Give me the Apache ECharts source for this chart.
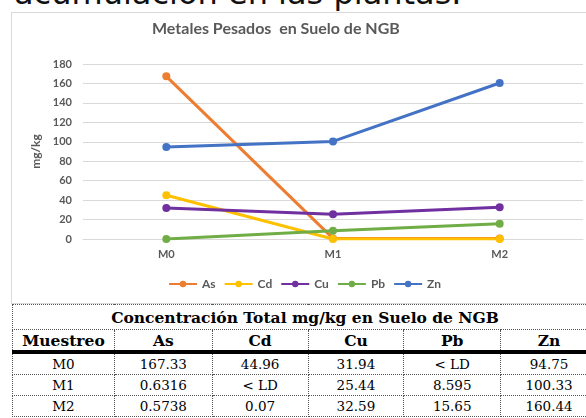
<!DOCTYPE html>
<html>
<head>
<meta charset="utf-8">
<script src="https://cdn.jsdelivr.net/npm/echarts@6/dist/echarts.min.js"></script>
<style>
  html, body { margin: 0; padding: 0; background: #fff; overflow: hidden; width: 586px; height: 418px; }
  .top-text {
    position: absolute; left: 14px; top: -23px;
    font-family: "DejaVu Sans", sans-serif; font-size: 32px; line-height: 32px;
    color: #111; white-space: nowrap;
  }
  .chart-box {
    position: absolute; left: 11px; top: 12px; width: 600px; height: 290px;
    border: 1px solid #d9d9d9; background: #fff;
  }
  .tabla {
    position: absolute; left: 12px; top: 304px; width: 586px;
    border-collapse: collapse; font-family: "DejaVu Serif", "Liberation Serif", serif; color: #000;
  }
  .tabla td, .tabla th {
    border: 1px dotted #555; text-align: center; padding: 0;
  }
  .tabla th { font-weight: bold; font-size: 15.5px; }
  .tabla .titulo th { height: 24px; }
  .tabla .cab th { height: 20px; border-bottom: 4px solid #000; }
  .tabla td { height: 20px; font-size: 13.5px; }
</style>
</head>
<body>
<div class="top-text">acumulación en las plantas.</div>
<div class="chart-box" id="grafico"></div>
<table class="tabla" id="tabla"></table>
<script>
// datos
const categorias = ["M0", "M1", "M2"];
const metales = ["As", "Cd", "Cu", "Pb", "Zn"];
const colores = ["#ED7D31", "#FFC000", "#7030A0", "#70AD47", "#4472C4"];
// valores graficados (< LD = 0)
const valAs = [167.33, 0.6316, 0.5738];
const valCd = [44.96, 0, 0.07];
const valCu = [31.94, 25.44, 32.59];
const valPb = [0, 8.595, 15.65];
const valZn = [94.75, 100.33, 160.44];
// textos de la tabla
const tablaTitulo = "Concentración Total mg/kg en Suelo de NGB";
const tablaCabecera = ["Muestreo", "As", "Cd", "Cu", "Pb", "Zn"];
const filaM0 = ["M0", "167.33", "44.96", "31.94", "< LD", "94.75"];
const filaM1 = ["M1", "0.6316", "< LD", "25.44", "8.595", "100.33"];
const filaM2 = ["M2", "0.5738", "0.07", "32.59", "15.65", "160.44"];

// tabla
const anchos = [102, 98, 96, 96, 97, 97];
let html = '<colgroup>' + anchos.map(w => '<col style="width:' + w + 'px">').join('') + '</colgroup>';
html += '<tr class="titulo"><th colspan="6">' + tablaTitulo + '</th></tr>';
html += '<tr class="cab">' + tablaCabecera.map(t => '<th>' + t + '</th>').join('') + '</tr>';
[filaM0, filaM1, filaM2].forEach(f => {
  html += '<tr>' + f.map(t => '<td>' + t.replace('<', '&lt;') + '</td>').join('') + '</tr>';
});
document.getElementById('tabla').innerHTML = html;

// grafico
const valores = [valAs, valCd, valCu, valPb, valZn];
const fuente = "Lato, 'Open Sans', sans-serif";
const myChart = echarts.init(document.getElementById('grafico'));
const option = {
  animation: false,
  color: colores,
  graphic: [{
    type: 'text',
    left: 140, top: 8,
    style: {
      text: 'Metales Pesados  en Suelo de NGB',
      fontFamily: fuente, fontSize: 16, fontWeight: 'bold', fill: '#595959'
    }
  }],
  grid: { left: 71, top: 51, right: 29, bottom: 64 },
  legend: {
    top: 260, left: 151,
    itemWidth: 28, itemHeight: 8, itemGap: 8,
    textStyle: { fontFamily: fuente, fontSize: 12, fontWeight: 'bold', color: '#595959' },
    data: metales
  },
  xAxis: {
    type: 'category',
    data: categorias,
    boundaryGap: true,
    axisTick: { show: false },
    axisLine: { lineStyle: { color: '#d9d9d9' } },
    axisLabel: { fontFamily: fuente, fontSize: 11, fontWeight: 'bold', color: '#595959', margin: 10 }
  },
  yAxis: {
    type: 'value',
    min: 0, max: 180, interval: 20,
    name: 'mg/kg',
    nameLocation: 'middle',
    nameGap: 32,
    nameRotate: 90,
    nameTextStyle: { fontFamily: fuente, fontSize: 12, fontWeight: 'bold', color: '#595959' },
    axisLine: { show: false },
    axisTick: { show: false },
    axisLabel: { fontFamily: fuente, fontSize: 11, fontWeight: 'bold', color: '#595959', margin: 11 },
    splitLine: { lineStyle: { color: '#d9d9d9', width: 1 } }
  },
  series: metales.map((m, i) => ({
    name: m,
    type: 'line',
    data: valores[i],
    symbol: 'circle',
    symbolSize: 8,
    lineStyle: { width: 3 }
  }))
};
myChart.setOption(option);
</script>
</body>
</html>
